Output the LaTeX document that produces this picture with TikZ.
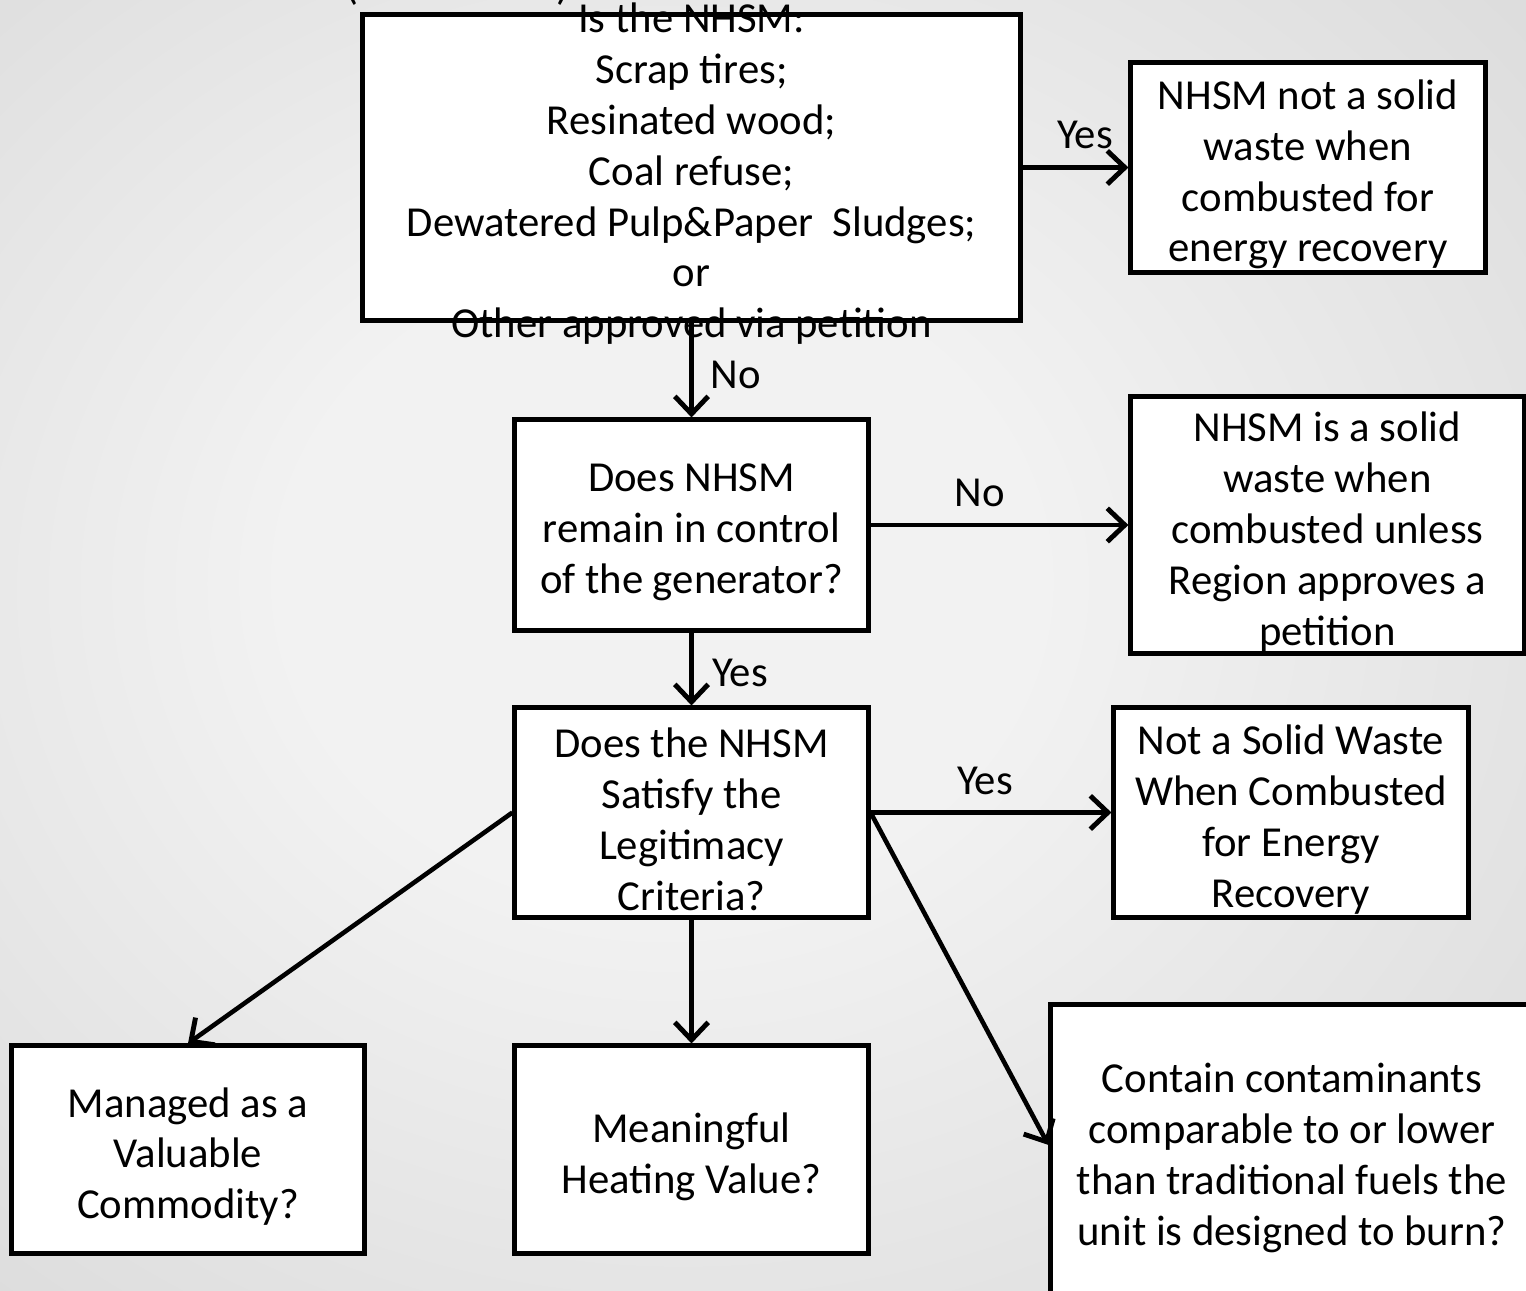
\documentclass[tikz,border=0pt]{standalone}
\usepackage{fontspec}
\setmainfont{Carlito}
\usetikzlibrary{arrows.meta}

\definecolor{bgin}{gray}{0.95}
\definecolor{bgmid}{gray}{0.85}
\definecolor{bgout}{gray}{0.70}
% soft grey glow behind the chart
\pgfdeclareradialshading{bgglow}{\pgfpoint{-4bp}{3bp}}{%
  color(0bp)=(bgin); color(12bp)=(bgin); color(40bp)=(bgmid); color(75bp)=(bgout)}

\tikzset{
  box/.style={draw=black, line width=1.4pt, fill=white, inner sep=0pt},
  txt/.style={align=center, inner sep=0pt, font=\fontsize{12.15pt}{14.45pt}\selectfont},
  link/.style={line width=1.3pt, -{Straight Barb[length=5pt,width=9.5pt,line width=1.4pt]}},
  tag/.style={inner sep=0pt, font=\fontsize{12.15pt}{14.5pt}\selectfont}
}

\begin{document}
\begin{tikzpicture}[x=0.01cm, y=-0.01cm]
  \useasboundingbox (0,0) rectangle (1526,1291);
  \clip (0,0) rectangle (1526,1291);
  \shade[shading=bgglow] (0,0) rectangle (1526,1291);

  % heading line above the chart, only its lower edge is in view
  \node[tag, anchor=base] (lpar) at (352,0) {(};
  \node[tag, anchor=base] (rpar) at (563,0) {)};

  % boxes
  \node[box, minimum width=6.57cm, minimum height=3.05cm] (top) at (691.5,167.5) {};
  \node[box, minimum width=3.54cm, minimum height=2.09cm] (r1) at (1308,167.5) {};
  \node[box, minimum width=3.53cm, minimum height=2.10cm] (q1) at (691.5,525) {};
  \node[box, minimum width=3.93cm, minimum height=2.56cm] (r2) at (1327.5,525) {};
  \node[box, minimum width=3.53cm, minimum height=2.09cm] (q2) at (691.5,812.5) {};
  \node[box, minimum width=3.54cm, minimum height=2.09cm] (r3) at (1291,812.5) {};
  \node[box, minimum width=3.52cm, minimum height=2.07cm] (b1) at (188,1149.5) {};
  \node[box, minimum width=3.53cm, minimum height=2.07cm] (b2) at (691.5,1149.5) {};
  \node[box, minimum width=4.82cm, minimum height=2.96cm] (b3) at (1292,1153) {};

  % box texts
  \node[txt] (toptxt) at ([yshift=-1.8pt]top.center) {Is the NHSM:\\Scrap tires;\\Resinated wood;\\Coal refuse;\\Dewatered Pulp\&Paper~ Sludges;\\or\\Other approved via petition};
  \node[txt] (r1txt) at ([yshift=-2pt]r1.center) {NHSM not a solid\\waste when\\combusted for\\energy recovery};
  \node[txt] (q1txt) at ([yshift=-2pt]q1.center) {Does NHSM\\remain in control\\of the generator?};
  \node[txt] (r2txt) at ([yshift=-2pt]r2.center) {NHSM is a solid\\waste when\\combusted unless\\Region approves a\\petition};
  \node[txt] (q2txt) at ([yshift=-2pt]q2.center) {Does the NHSM\\Satisfy the\\Legitimacy\\Criteria?};
  \node[txt] (r3txt) at ([yshift=-2pt]r3.center) {Not a Solid Waste\\When Combusted\\for Energy\\Recovery};
  \node[txt] (b1txt) at ([yshift=-2pt]b1.center) {Managed as a\\Valuable\\Commodity?};
  \node[txt] (b2txt) at ([yshift=-2pt]b2.center) {Meaningful\\Heating Value?};
  \node[txt] (b3txt) at ([yshift=-1.4pt]b3.center) {Contain contaminants\\comparable to or lower\\than traditional fuels the\\unit is designed to burn?};

  % connectors
  \draw[link] (top.east |- r1.west) -- (r1.west);
  \draw[link] (top.south) -- (q1.north);
  \draw[link] (q1.east) -- (q1.east -| r2.west);
  \draw[link] (q1.south) -- (q2.north);
  \draw[link] (q2.east) -- (r3.west);
  \draw[link] (q2.west) -- (b1.north);
  \draw[link] (q2.south) -- (b2.north);
  \draw[link] (q2.east) -- ([yshift=2.3pt]b3.west);

  % branch labels
  \node[tag] (yes1) at (1085,135) {Yes};
  \node[tag] (no1) at (736,375) {No};
  \node[tag] (no2) at (980,493) {No};
  \node[tag] (yes2) at (740,673) {Yes};
  \node[tag] (yes3) at (985,781) {Yes};
\end{tikzpicture}
\end{document}
